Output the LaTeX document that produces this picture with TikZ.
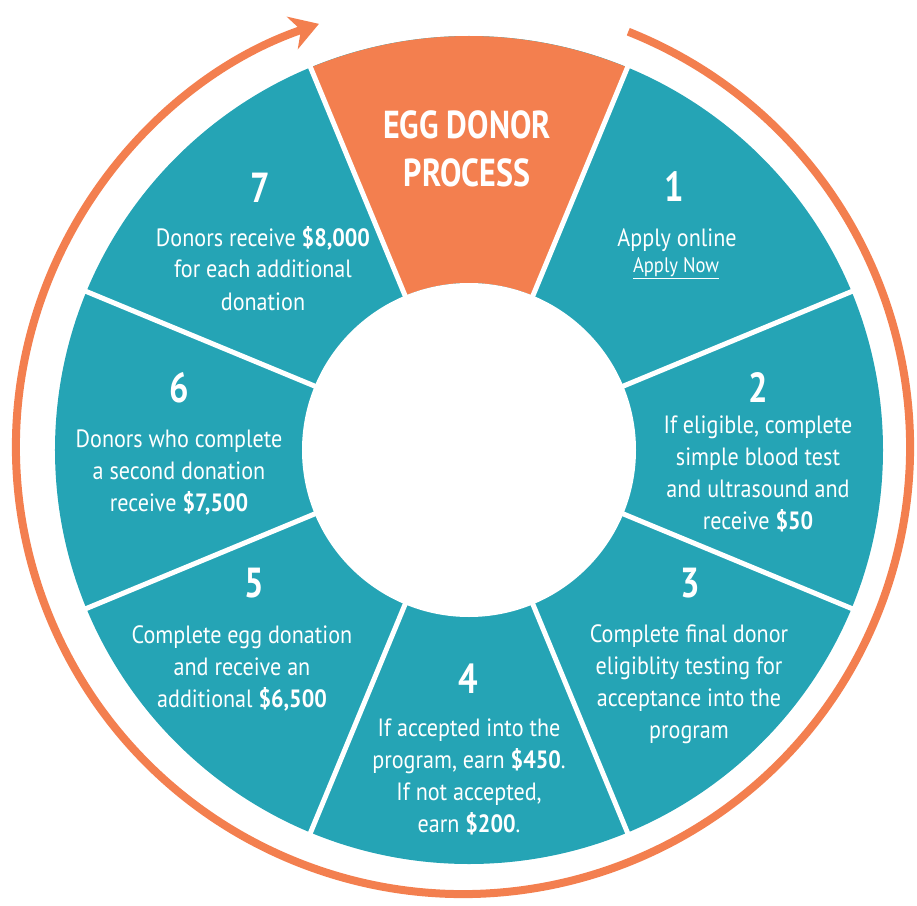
\documentclass[tikz,border=0pt]{standalone}
\usepackage{fontspec}
\setmainfont{PT Sans}[FakeStretch=0.82]
\newfontfamily\bodyfont{PT Sans}[FakeStretch=0.885]
\usetikzlibrary{arrows.meta}
\definecolor{wheelteal}{RGB}{37,164,181}
\definecolor{wheelorange}{RGB}{243,127,79}
\newcommand\stk[1]{\vtop{\halign{\hfil##\hfil\cr #1\crcr}}}
\tikzset{
  num/.style={font=\fontsize{42}{42}\selectfont\bfseries, text=white, anchor=base, inner sep=0pt},
  body/.style={font=\bodyfont\fontsize{25}{32}\selectfont, text=white, anchor=base, inner sep=0pt},
  title/.style={font=\fontsize{39}{48}\selectfont\bfseries, text=white, anchor=base, inner sep=0pt},
  link/.style={font=\bodyfont\fontsize{21}{22}\selectfont, text=white, anchor=base, inner sep=0pt},
  divider/.style={white, line width=5pt},
  ring/.style={wheelorange, line width=8pt}
}
\begin{document}
\begin{tikzpicture}[x=1pt,y=1pt]
\useasboundingbox (-469,-455) rectangle (448,450);
% wheel
\fill[wheelteal] (0,0) circle (414);
\fill[wheelorange] (67.5:414) arc[start angle=67.5, end angle=112.5, radius=414]
   -- (112.5:167) arc[start angle=112.5, end angle=67.5, radius=167] -- cycle;
\fill[white] (0,0) circle (167);
\foreach \a in {22.5,67.5,...,337.5}{
  \draw[divider] (\a:160) -- (\a:420);
}
% ring arrow
\draw[ring, shift={(-6,3)}, -{Stealth[length=28pt,width=34pt,inset=9pt]}]
  (68.3:447) arc[start angle=68.3, end angle=-251.2, radius=447];
% title
\node[title] (title) at (-2,311) {\stk{EGG DONOR\cr PROCESS}};
% step 1
\node[num] (n1) at (205,248) {1};
\node[body] (t1) at (208,204) {Apply online};
\node[link] (l1) at (207,178) {\underline{Apply Now}};
% step 2
\node[num] (n2) at (289,48) {2};
\node[body] (t2) at (289,17) {\stk{If eligible, complete\cr simple blood test\cr and ultrasound and\cr receive \textbf{\$50}}};
% step 3
\node[num] (n3) at (221,-147) {3};
\node[body] (t3) at (220,-192) {\stk{Complete final donor\cr eligiblity testing for\cr acceptance into the\cr program}};
% step 4
\node[num] (n4) at (-1,-243) {4};
\node[body] (t4) at (0,-286) {\stk{If accepted into the\cr program, earn \textbf{\$450}.\cr If not accepted,\cr earn \textbf{\$200}.}};
% step 5
\node[num] (n5) at (-215,-147) {5};
\node[body] (t5) at (-227,-193) {\stk{Complete egg donation\cr and receive an\cr additional \textbf{\$6,500}}};
% step 6
\node[num] (n6) at (-290,48) {6};
\node[body] (t6) at (-290,3) {\stk{Donors who complete\cr a second donation\cr receive \textbf{\$7,500}}};
% step 7
\node[num] (n7) at (-209,247) {7};
\node[body] (t7) at (-206,204) {\stk{Donors receive \textbf{\$8,000}\cr for each additional\cr donation}};
\end{tikzpicture}
\end{document}
